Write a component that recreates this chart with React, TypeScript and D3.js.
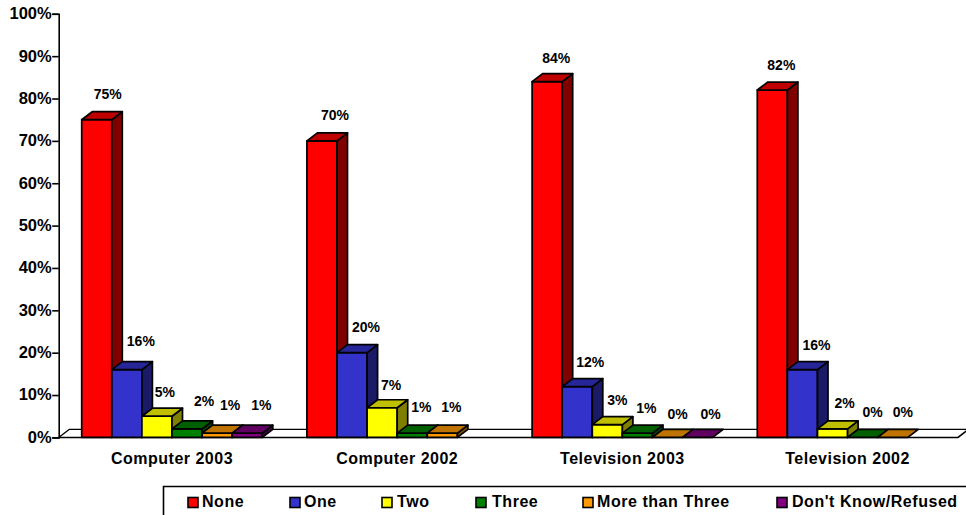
import { useEffect, useRef } from "react";
import * as d3 from "d3";

const groups = ["Computer 2003", "Computer 2002", "Television 2003", "Television 2002"];
const seriesNames = ["None", "One", "Two", "Three", "More than Three", "Don't Know/Refused"];
const yTicks = [0, 10, 20, 30, 40, 50, 60, 70, 80, 90, 100];

// one row per group, null = no bar at all
const none = [75, 70, 84, 82];
const one = [16, 20, 12, 16];
const two = [5, 7, 3, 2];
const three = [2, 1, 1, 0];
const moreThanThree = [1, 1, 0, 0];
const dontKnow = [1, null, 0, null];
const seriesValues: (number | null)[][] = [none, one, two, three, moreThanThree, dontKnow];

const frontColors = ["#ff0000", "#3333cc", "#ffff00", "#008000", "#ff9900", "#800080"];

// hand nudges for the data labels, [dx, dy] per group and series
const labelNudges: [number, number][][] = [
  [[-1, 0], [2, -3], [-4, 2], [5, -2], [1, -2], [2, -2]],
  [[1, 0], [2, 0], [-3, 3], [-3, 0], [-3, 0], [0, 0]],
  [[-3, 2], [1, 1], [-2, 1], [-3, 1], [-2, 3], [1, 3]],
  [[-3, 1], [2, 1], [0, 0], [-2, 1], [-2, 1], [0, 0]],
];

const legendX = [188, 290, 382, 476, 583, 777];
const legendTextX = [202, 304, 397, 492, 597, 792];

const App = () => {
  const svgRef = useRef<SVGSVGElement | null>(null);

  useEffect(() => {
    const width = 966;
    const height = 515;
    const axisX = 58.7;
    const depthX = 10.5;
    const depthY = 8;
    const font = "'Liberation Sans', Arial, sans-serif";

    const svg = d3.select(svgRef.current).attr("width", width).attr("height", height);
    svg.selectAll("*").remove();

    const y = d3.scaleLinear().domain([0, 100]).range([437.4, 13.8]);
    const x0 = d3.scaleBand().domain(groups).range([59.4, 960.2]);
    const groupW = 180.6;
    const x1 = d3
      .scaleBand()
      .domain(seriesNames)
      .range([(x0.bandwidth() - groupW) / 2, (x0.bandwidth() + groupW) / 2]);

    const line = d3.line();
    const y0 = y(0);

    // floor
    svg
      .append("path")
      .attr(
        "d",
        line([
          [axisX, y0],
          [axisX + depthX, y0 - depthY],
          [width, y0 - depthY],
        ])
      )
      .attr("fill", "none")
      .attr("stroke", "#000")
      .attr("stroke-width", 1.2);
    svg
      .append("path")
      .attr(
        "d",
        line([
          [axisX, y0],
          [958, y0],
          [958 + depthX, y0 - depthY],
        ])
      )
      .attr("fill", "none")
      .attr("stroke", "#000")
      .attr("stroke-width", 1.5);

    // axes
    const axis = d3
      .axisLeft(y)
      .tickValues(yTicks)
      .tickSize(6.5)
      .tickSizeOuter(6.5)
      .tickPadding(0.5)
      .tickFormat((d: any) => `${d}%`);
    const gy = svg.append("g").attr("transform", `translate(${axisX},0)`).call(axis);
    gy.selectAll("path,line").attr("stroke", "#000").attr("stroke-width", 1.6);
    gy.selectAll("text")
      .attr("font-family", font)
      .attr("font-weight", "bold")
      .attr("font-size", 16.5)
      .attr("dy", "0.3em")
      .attr("fill", "#000");

    // bars
    const bars = svg.append("g").attr("stroke", "#000").attr("stroke-width", 1.7).attr("stroke-linejoin", "round");
    groups.forEach((group, g) => {
      seriesNames.forEach((name, s) => {
        const v = seriesValues[s][g];
        if (v === null) return;
        const left = (x0(group) || 0) + (x1(name) || 0);
        const right = left + x1.bandwidth();
        const top = y(v);
        const rgb = d3.rgb(frontColors[s]);
        const shade = (k: number) => d3.rgb(rgb.r * k, rgb.g * k, rgb.b * k).formatHex();
        const bar = bars.append("g");
        if (v > 0) {
          bar.append("rect").attr("x", left).attr("y", top).attr("width", right - left).attr("height", y0 - top).attr("fill", frontColors[s]);
          bar
            .append("path")
            .attr("d", line([[right, top], [right + depthX, top - depthY], [right + depthX, y0 - depthY], [right, y0]]) + "Z")
            .attr("fill", shade(0.5));
        }
        bar
          .append("path")
          .attr("d", line([[left, top], [left + depthX, top - depthY], [right + depthX, top - depthY], [right, top]]) + "Z")
          .attr("fill", shade(0.75));
      });
    });

    // data labels
    const labels = svg
      .append("g")
      .attr("font-family", font)
      .attr("font-weight", "bold")
      .attr("font-size", 14)
      .attr("text-anchor", "middle")
      .attr("fill", "#000");
    groups.forEach((group, g) => {
      seriesNames.forEach((name, s) => {
        const v = seriesValues[s][g];
        if (v === null) return;
        const [dx, dy] = labelNudges[g][s];
        labels
          .append("text")
          .attr("x", (x0(group) || 0) + (x1(name) || 0) + x1.bandwidth() / 2 + 12 + dx)
          .attr("y", y(v) - 26 + dy + 5)
          .text(`${v}%`);
      });
    });

    // category labels
    svg
      .append("g")
      .attr("font-family", font)
      .attr("font-weight", "bold")
      .attr("font-size", 16)
      .attr("text-anchor", "middle")
      .attr("fill", "#000")
      .selectAll("text")
      .data(groups)
      .join("text")
      .attr("x", (d) => (x0(d) || 0) + x0.bandwidth() / 2)
      .attr("y", 464)
      .attr("letter-spacing", 0.5)
      .text((d) => d);

    // legend, box runs off the page
    svg
      .append("path")
      .attr("d", line([[163.5, height], [163.5, 486.5], [width, 486.5]]))
      .attr("fill", "none")
      .attr("stroke", "#000")
      .attr("stroke-width", 1.6);
    const item = svg.append("g").selectAll("g").data(seriesNames).join("g");
    item
      .append("rect")
      .attr("x", (_: any, i: number) => legendX[i])
      .attr("y", 497.5)
      .attr("width", 10)
      .attr("height", 10)
      .attr("fill", (_: any, i: number) => frontColors[i])
      .attr("stroke", "#000")
      .attr("stroke-width", 1.6);
    item
      .append("text")
      .attr("x", (_: any, i: number) => legendTextX[i])
      .attr("y", 507)
      .attr("font-family", font)
      .attr("font-weight", "bold")
      .attr("font-size", 16)
      .attr("letter-spacing", 0.55)
      .attr("fill", "#000")
      .text((d) => d);
  }, []);

  return (
    <div style={{ position: "absolute", left: 0, top: 0, width: 966, height: 515, overflow: "hidden" }}>
      <svg ref={svgRef} style={{ display: "block" }} />
    </div>
  );
};

export default App;
